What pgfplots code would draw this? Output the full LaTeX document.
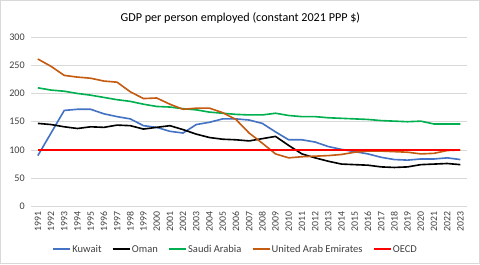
\documentclass[border=0pt]{standalone}
\usepackage{pgfplots}
\pgfplotsset{compat=1.18}
\usepackage{fontspec}
\setmainfont{Carlito}
\definecolor{kuwblue}{RGB}{68,114,196}
\definecolor{uaeorange}{RGB}{197,90,17}
\definecolor{saugreen}{RGB}{0,176,80}
\definecolor{oecdred}{RGB}{255,0,0}
\definecolor{gridc}{HTML}{D9D9D9}
\definecolor{txt}{HTML}{404040}
\begin{document}
\begin{tikzpicture}
\begin{axis}[
  scale only axis, width=431pt, height=167.6pt,
  clip=false,
  xmin=-0.5, xmax=32.5, ymin=0, ymax=300,
  ytick={0,50,...,300},
  xtick={0,...,32},
  xticklabels={1991,1992,1993,1994,1995,1996,1997,1998,1999,2000,2001,2002,2003,2004,2005,2006,2007,2008,2009,2010,2011,2012,2013,2014,2015,2016,2017,2018,2019,2020,2021,2022,2023},
  x tick label style={rotate=90, anchor=east, font=\fontsize{9.7}{10}\selectfont, text=txt},
  y tick label style={font=\fontsize{10}{11}\selectfont, text=txt},
  /pgf/number format/assume math mode=true,
  ymajorgrids, grid style={gridc, line width=0.6pt},
  axis line style={draw=none},
  tick pos=left,
  major tick length=0pt,
  xticklabel shift=2pt, yticklabel shift=3pt,
  legend style={at={(0.47,-0.255)}, anchor=center, draw=none, fill=none,
    font=\fontsize{10.4}{11}\selectfont, text=txt,
    /tikz/every even column/.append style={column sep=9pt}},
  legend columns=5,
]
\addplot[color=kuwblue, line width=1.6pt, line join=round,
  legend image code/.code={\node[inner sep=0pt, anchor=west] at (0pt,0pt) {\textcolor{kuwblue}{\rule[-0.8pt]{17pt}{1.6pt}}};}] coordinates {(0,90)(1,130)(2,170)(3,172)(4,172)(5,164)(6,159)(7,155)(8,143)(9,140)(10,133)(11,130)(12,145)(13,149)(14,155)(15,155)(16,153)(17,147)(18,132)(19,118)(20,118)(21,114)(22,106)(23,101)(24,97)(25,93)(26,87)(27,83)(28,82)(29,84)(30,84)(31,86)(32,83)};
\addlegendentry{Kuwait}
\addplot[color=black, line width=1.6pt, line join=round,
  legend image code/.code={\node[inner sep=0pt, anchor=west] at (0pt,0pt) {\textcolor{black}{\rule[-0.8pt]{17pt}{1.6pt}}};}] coordinates {(0,147)(1,145)(2,141)(3,138)(4,141)(5,140)(6,144)(7,143)(8,137)(9,140)(10,143)(11,136)(12,128)(13,122)(14,119)(15,118)(16,116)(17,120)(18,124)(19,108)(20,93)(21,86)(22,80)(23,75)(24,74)(25,73)(26,70)(27,69)(28,70)(29,74)(30,75)(31,76)(32,74)};
\addlegendentry{Oman}
\addplot[color=saugreen, line width=1.6pt, line join=round,
  legend image code/.code={\node[inner sep=0pt, anchor=west] at (0pt,0pt) {\textcolor{saugreen}{\rule[-0.8pt]{17pt}{1.6pt}}};}] coordinates {(0,210)(1,206)(2,204)(3,200)(4,197)(5,193)(6,189)(7,186)(8,181)(9,177)(10,176)(11,173)(12,171)(13,167)(14,165)(15,163)(16,162)(17,162)(18,165)(19,161)(20,159)(21,159)(22,157)(23,156)(24,155)(25,154)(26,152)(27,151)(28,150)(29,151)(30,146)(31,146)(32,146)};
\addlegendentry{Saudi Arabia}
\addplot[color=uaeorange, line width=1.6pt, line join=round,
  legend image code/.code={\node[inner sep=0pt, anchor=west] at (0pt,0pt) {\textcolor{uaeorange}{\rule[-0.8pt]{17pt}{1.6pt}}};}] coordinates {(0,261)(1,248)(2,232)(3,229)(4,227)(5,222)(6,220)(7,203)(8,191)(9,192)(10,181)(11,172)(12,174)(13,174)(14,166)(15,154)(16,130)(17,112)(18,93)(19,86)(20,88)(21,89)(22,90)(23,92)(24,96)(25,98)(26,98)(27,97)(28,96)(29,93)(30,94)(31,99)(32,100)};
\addlegendentry{United Arab Emirates}
\addplot[color=oecdred, line width=2pt,
  legend image code/.code={\node[inner sep=0pt, anchor=west] at (0pt,0pt) {\textcolor{oecdred}{\rule[-1pt]{17pt}{2pt}}};}] coordinates {(0,100)(1,100)(2,100)(3,100)(4,100)(5,100)(6,100)(7,100)(8,100)(9,100)(10,100)(11,100)(12,100)(13,100)(14,100)(15,100)(16,100)(17,100)(18,100)(19,100)(20,100)(21,100)(22,100)(23,100)(24,100)(25,100)(26,100)(27,100)(28,100)(29,100)(30,100)(31,100)(32,100)};
\addlegendentry{OECD}
\draw[gridc, line width=0.8pt] (rel axis cs:-0.0708,-0.338) rectangle (rel axis cs:1.029,1.216);
\node[font=\fontsize{12}{14}\selectfont, text=black] at (rel axis cs:0.48,1.112) {GDP per person employed (constant 2021 PPP \$)};
\end{axis}
\end{tikzpicture}
\end{document}
